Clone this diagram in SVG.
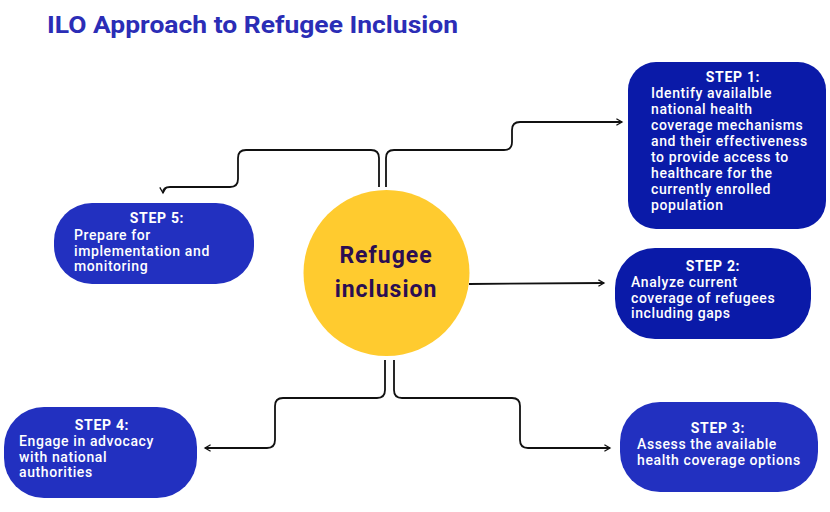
<svg xmlns="http://www.w3.org/2000/svg" width="830" height="512" viewBox="0 0 830 512">
<defs>
<marker id="arr" viewBox="0 0 10 10" refX="8" refY="5" markerWidth="8" markerHeight="8" markerUnits="userSpaceOnUse" orient="auto">
<path d="M1,1 L8,5 L1,9" fill="none" stroke="#111" stroke-width="1.6"/>
</marker>
<style>
.title{font-family:Roboto,"Liberation Sans",sans-serif;font-weight:700;font-size:23px;fill:#2b2db6}
.dark{fill:#0a1aa8}
.light{fill:#2230c0}
.h{font-family:Roboto,"Liberation Sans",sans-serif;font-weight:700;font-size:14px;fill:#fff;text-anchor:middle;letter-spacing:0.7px}
.b{font-family:Roboto,"Liberation Sans",sans-serif;font-weight:500;font-size:14px;fill:#fff;letter-spacing:0.6px}
.c{font-family:Roboto,"Liberation Sans",sans-serif;font-weight:700;font-size:23px;fill:#2b0e52;text-anchor:middle;letter-spacing:1px}
.ln{fill:none;stroke:#111;stroke-width:1.8}
</style>
</defs>
<rect width="830" height="512" fill="#fff"/>
<text class="title" x="47" y="33" textLength="411" lengthAdjust="spacingAndGlyphs">ILO Approach to Refugee Inclusion</text>

<g id="connectors">
<path class="ln" d="M379,187 V158 Q379,150 371,150 H246 Q238,150 238,158 V179 Q238,187 230,187 H170 Q163,187 163,193" marker-end="url(#arr)"/>
<path class="ln" d="M386,187 V158 Q386,150 394,150 H504 Q512,150 512,142 V130 Q512,122 520,122 H622" marker-end="url(#arr)"/>
<path class="ln" d="M469,284 L604,283" marker-end="url(#arr)"/>
<path class="ln" d="M385,360 V390 Q385,398 377,398 H283 Q275,398 275,406 V440 Q275,448 267,448 H205" marker-end="url(#arr)"/>
<path class="ln" d="M394,360 V390 Q394,398 402,398 H512 Q520,398 520,406 V440 Q520,448 528,448 H610" marker-end="url(#arr)"/>
</g>

<g id="center">
<circle cx="386.5" cy="273" r="83" fill="#ffcb2f"/>
<text class="c" x="386" y="263">Refugee</text>
<text class="c" x="386" y="297">inclusion</text>
</g>

<g id="step1">
<rect class="dark" x="628" y="62" width="198" height="167" rx="28"/>
<text class="h" x="733" y="82">STEP 1:</text>
<text class="b" x="651" y="98">Identify availalble</text>
<text class="b" x="651" y="114">national health</text>
<text class="b" x="651" y="130">coverage mechanisms</text>
<text class="b" x="651" y="146">and their effectiveness</text>
<text class="b" x="651" y="162">to provide access to</text>
<text class="b" x="651" y="178">healthcare for the</text>
<text class="b" x="651" y="194">currently enrolled</text>
<text class="b" x="651" y="210">population</text>
</g>

<g id="step2">
<rect class="dark" x="615" y="248" width="196" height="91" rx="40"/>
<text class="h" x="713" y="271">STEP 2:</text>
<text class="b" x="631" y="287">Analyze current</text>
<text class="b" x="631" y="303">coverage of refugees</text>
<text class="b" x="631" y="318">including gaps</text>
</g>

<g id="step3">
<rect class="light" x="620" y="402" width="198" height="90" rx="40"/>
<text class="h" x="718" y="433">STEP 3:</text>
<text class="b" x="637" y="449">Assess the available</text>
<text class="b" x="637" y="465">health coverage options</text>
</g>

<g id="step4">
<rect class="light" x="4" y="407" width="193" height="91" rx="40"/>
<text class="h" x="102" y="430">STEP 4:</text>
<text class="b" x="19" y="446">Engage in advocacy</text>
<text class="b" x="19" y="462">with national</text>
<text class="b" x="19" y="477">authorities</text>
</g>

<g id="step5">
<rect class="light" x="54" y="203" width="200" height="81" rx="38"/>
<text class="h" x="157" y="223">STEP 5:</text>
<text class="b" x="74" y="240">Prepare for</text>
<text class="b" x="74" y="256">implementation and</text>
<text class="b" x="74" y="271">monitoring</text>
</g>
</svg>
